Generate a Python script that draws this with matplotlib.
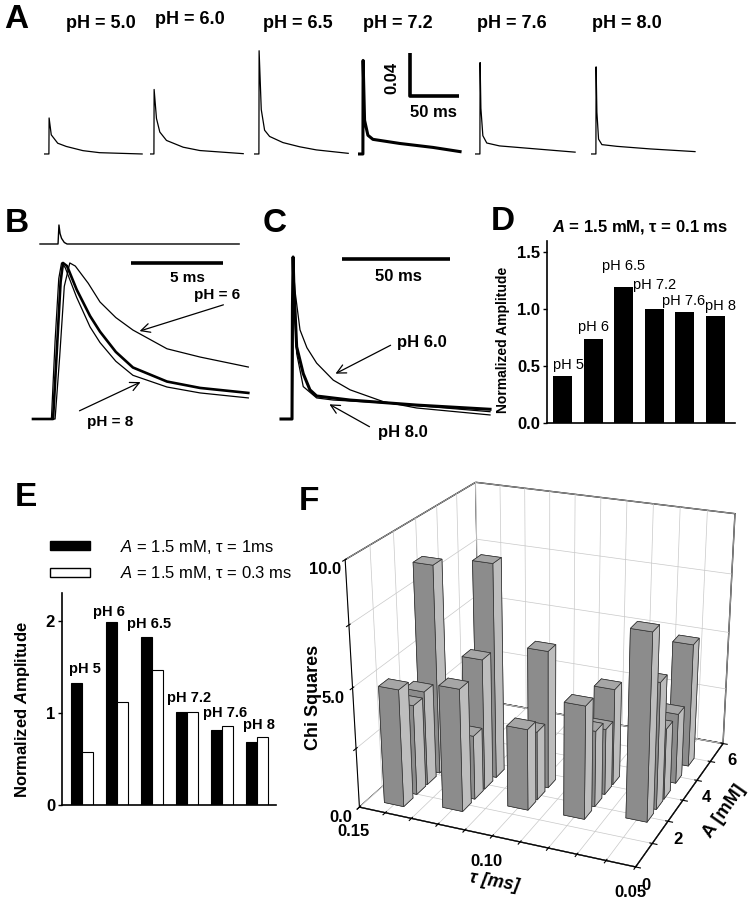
import numpy as np
import matplotlib
matplotlib.use('Agg')
import matplotlib.pyplot as plt
from matplotlib.patches import Patch

plt.rcParams['font.family'] = ['Liberation Sans', 'DejaVu Sans']
plt.rcParams['mathtext.fontset'] = 'custom'
plt.rcParams['mathtext.rm'] = 'Liberation Sans'
plt.rcParams['mathtext.it'] = 'Liberation Sans:italic'
plt.rcParams['mathtext.bf'] = 'Liberation Sans:bold'
try:
    plt.rcParams['mathtext.bfit'] = 'Liberation Sans:bold:italic'
except KeyError:
    pass
plt.rcParams['grid.color'] = '#c8c8c8'
plt.rcParams['grid.linewidth'] = 0.5

# ---------------- data ----------------
# A: currents at each pH (time ms, amplitude)
ph_a = ['pH = 5.0', 'pH = 6.0', 'pH = 6.5', 'pH = 7.2', 'pH = 7.6', 'pH = 8.0']
t_ph50 = [0, 5, 5.2, 7.4, 14, 22.7, 39.7, 56.7, 100]
i_ph50 = [0, 0, 0.0335, 0.0178, 0.010, 0.007, 0.0031, 0.0012, 0.0]
t_ph60 = [0, 4, 4.2, 6.6, 10, 16.8, 33.8, 50.8, 95]
i_ph60 = [0, 0, 0.060, 0.033, 0.0204, 0.0126, 0.0063, 0.0032, 0.0003]
t_ph65 = [0, 5, 5.2, 7.4, 10.8, 15.9, 29.5, 46.5, 63.5, 96]
i_ph65 = [0, 0, 0.096, 0.0413, 0.0221, 0.0163, 0.0106, 0.0067, 0.0038, 0.0006]
t_ph72 = [0, 5, 5.2, 6.7, 10.1, 15.2, 42.4, 76.4, 104]
i_ph72 = [0, 0, 0.087, 0.0313, 0.0174, 0.0136, 0.0098, 0.0061, 0.0022]
t_ph76 = [0, 5, 5.2, 6, 8, 12, 25, 102]
i_ph76 = [0, 0, 0.085, 0.0425, 0.017, 0.0102, 0.0075, 0.0017]
t_ph80 = [0, 5, 5.2, 6, 7.7, 11.1, 26.4, 60.4, 106]
i_ph80 = [0, 0, 0.081, 0.0389, 0.0138, 0.0087, 0.0071, 0.0047, 0.0022]

# B: normalized fits on a 5 ms scale
b_t_data = [0, 1.09, 1.3, 1.5, 1.63, 1.85, 2.37, 3.1, 3.64, 4.5, 5.43, 7.28, 9.08, 11.7]
b_y_data = [0, 0, 0.45, 0.88, 1.0, 0.98, 0.83, 0.66, 0.56, 0.43, 0.33, 0.24, 0.199, 0.167]
b_t_ph6 = [0, 1.2, 1.45, 1.7, 2.0, 2.3, 3.0, 3.64, 4.5, 5.43, 7.28, 9.08, 11.7]
b_y_ph6 = [0, 0, 0.4, 0.85, 1.0, 0.98, 0.87, 0.75, 0.65, 0.57, 0.45, 0.397, 0.333]
b_t_ph8 = [0, 1.0, 1.2, 1.4, 1.55, 1.75, 2.37, 3.1, 3.64, 4.5, 5.43, 7.28, 9.08, 11.7]
b_y_ph8 = [0, 0, 0.5, 0.9, 1.0, 0.97, 0.78, 0.59, 0.49, 0.37, 0.28, 0.205, 0.167, 0.135]
pulse_t = [0.38, 1.36, 1.41, 1.47, 1.55, 1.7, 1.85, 11.2]
pulse_y = [0, 0, 1.0, 0.55, 0.3, 0.08, 0, 0]

# C: same on a 50 ms scale
c_t_data = [0, 5.1, 5.3, 5.6, 5.9, 7.25, 10.3, 13.4, 16.5, 32, 62.8, 96.8]
c_y_data = [0, 0, 0.7, 1.0, 0.85, 0.446, 0.28, 0.18, 0.142, 0.117, 0.086, 0.06]
c_t_ph6 = [0, 5.2, 5.7, 6.4, 8.8, 12, 16.5, 24.2, 32, 47.4, 62.8, 96.8]
c_y_ph6 = [0, 0, 0.95, 0.8, 0.55, 0.44, 0.345, 0.24, 0.18, 0.107, 0.068, 0.025]
c_t_ph8 = [0, 5.2, 5.6, 6.2, 7.25, 10.3, 16.5, 24.2, 47.4, 96.8]
c_y_ph8 = [0, 0, 0.95, 0.7, 0.405, 0.2, 0.13, 0.117, 0.1, 0.045]

# D / E: normalized amplitudes
ph_bars = ['pH 5', 'pH 6', 'pH 6.5', 'pH 7.2', 'pH 7.6', 'pH 8']
d_amp = [0.41, 0.74, 1.20, 1.00, 0.98, 0.94]
e_amp_1ms = [1.32, 1.99, 1.82, 1.01, 0.81, 0.68]
e_amp_03ms = [0.57, 1.12, 1.47, 1.01, 0.86, 0.74]

# F: chi squares over (tau, A)
f_tau = [0.14, 0.14, 0.14, 0.14,
         0.12, 0.12, 0.12, 0.12,
         0.10, 0.10, 0.10,
         0.08, 0.08, 0.08, 0.08,
         0.06, 0.06, 0.06, 0.06, 0.06]
f_A = [0.6, 1.2, 1.7, 2.3,
       0.9, 1.5, 2.0, 2.6,
       1.5, 2.0, 2.6,
       1.6, 2.2, 2.8, 3.3,
       2.0, 2.6, 3.1, 3.9, 4.8]
f_chi = [4.9, 3.8, 4.0, 8.8,
         5.1, 2.7, 5.5, 9.0,
         3.4, 2.9, 5.8,
         4.7, 3.2, 2.8, 4.1,
         7.7, 5.3, 3.0, 3.0, 5.3]

W, H = 750, 900
fig = plt.figure(figsize=(7.5, 9), dpi=100)


def box(x0, y0, x1, y1):
    return [x0 / W, 1 - y1 / H, (x1 - x0) / W, (y1 - y0) / H]


def ftext(x, y, s, **kw):
    return fig.text(x / W, 1 - y / H, s, **kw)


# panel letters
for lab, (x, y) in zip('ABCDEF', [(16, 20), (17, 223), (275, 223), (503, 222), (26, 498), (309, 501)]):
    ftext(x, y, lab, fontsize=24, fontweight='bold', ha='center', va='center')

# ---------------- F ----------------
# drawn first so its background never hides the other panels' text
# tau runs right-to-left in the original, so it is drawn on a negated axis
axf = fig.add_axes(box(318, 430, 768, 900), projection='3d')
axf.set_facecolor((1, 1, 1, 0))
axf.computed_zorder = False
dx, dy = 0.0075, 0.42
azim, elev = -67, 23
# one colour per face: bottom, top, front, back, left, right
face_cols = ['#8a8a8a', '#a6a6a6', '#8c8c8c', '#8c8c8c', '#8c8c8c', '#bdbdbd']
# back bars first so the nearer ones cover them
depth = [(-t + 0.15) / 0.1 * np.cos(np.radians(azim)) + a / 6 * np.sin(np.radians(azim))
         for t, a in zip(f_tau, f_A)]
for n, k in enumerate(np.argsort(depth)):
    axf.bar3d(-f_tau[k] - dx / 2, f_A[k] - dy / 2, 0, dx, dy, f_chi[k],
              color=face_cols, edgecolor='#333333', linewidth=0.5, shade=False, zorder=10 + n)
axf.set_xlim(-0.15, -0.05)
axf.set_ylim(0, 6)
axf.set_zlim(0, 10)
axf.set_proj_type('persp', focal_length=0.6)
axf.view_init(elev=elev, azim=azim)
axf.set_box_aspect((1.1, 1.05, 0.98), zoom=1.03)
xt = [0.15, 0.14, 0.13, 0.12, 0.11, 0.10, 0.09, 0.08, 0.07, 0.06, 0.05]
axf.set_xticks([-v for v in xt])
axf.set_xticklabels(['0.15', '', '', '', '', '0.10', '', '', '', '', '0.05'], fontsize=12, fontweight='bold')
axf.set_yticks([0, 1, 2, 3, 4, 5, 6])
axf.set_yticklabels(['0', '', '2', '', '4', '', '6'], fontsize=12, fontweight='bold')
axf.set_zticks([0, 2.5, 5, 7.5, 10])
axf.set_zticklabels(['0.0', '', '5.0', '', '10.0'], fontsize=12, fontweight='bold')
axf.zaxis.set_ticks_position('lower')
axf.zaxis.set_label_position('lower')
axf.tick_params(axis='x', pad=0)
axf.tick_params(axis='y', pad=-2)
axf.tick_params(axis='z', pad=0)
for axis in (axf.xaxis, axf.yaxis, axf.zaxis):
    axis.set_pane_color((1, 1, 1, 1))
    axis.pane.set_edgecolor('black')
    axis.pane.set_linewidth(1.0)
    axis.line.set_color('black')
ftext(313, 697, 'Chi Squares', fontsize=13, fontweight='bold', rotation=90, ha='center', va='center')
ftext(494, 882, 'τ [ms]', fontsize=13, fontweight='bold', style='italic', rotation=-10, ha='center', va='center')
ftext(724, 811, 'A [mM]', fontsize=13, fontweight='bold', rotation=55, ha='center', va='center')

# ---------------- A ----------------
a_traces = [(t_ph50, i_ph50), (t_ph60, i_ph60), (t_ph65, i_ph65),
            (t_ph72, i_ph72), (t_ph76, i_ph76), (t_ph80, i_ph80)]
a_left = [44, 150, 254, 358, 475, 591]
a_labx = [101, 190, 298, 398, 512, 627]
a_laby = [23, 20, 23, 23, 24, 24]
a_axes = []
for k, (tt, yy) in enumerate(a_traces):
    ax = fig.add_axes(box(a_left[k], 40, a_left[k] + 105, 160))
    ax.plot(tt, yy, color='black', lw=2.2 if k == 3 else 0.9)
    ax.set_xlim(0, 107)
    ax.set_ylim(-0.0056, 0.106)
    ax.axis('off')
    a_axes.append(ax)
    ftext(a_labx[k], a_laby[k], ph_a[k], fontsize=13, fontweight='bold', ha='center', va='center')
# scale bar 0.04 / 50 ms
ax = a_axes[3]
ax.plot([53, 53, 103], [0.094, 0.054, 0.054], color='black', lw=2.6, solid_capstyle='butt')
ax.text(35, 0.071, '0.04', rotation=90, fontsize=12, fontweight='bold', ha='center', va='center')
ax.text(77, 0.039, '50 ms', fontsize=12, fontweight='bold', ha='center', va='center')

# ---------------- B ----------------
axp = fig.add_axes(box(30, 215, 252, 250))
axp.plot(pulse_t, pulse_y, color='black', lw=1.0)
axp.set_xlim(-0.163, 11.9)
axp.set_ylim(-0.316, 1.526)
axp.axis('off')

axb = fig.add_axes(box(30, 255, 252, 425))
axb.plot(b_t_ph6, b_y_ph6, color='black', lw=0.9)
axb.plot(b_t_ph8, b_y_ph8, color='black', lw=0.9)
axb.plot(b_t_data, b_y_data, color='black', lw=1.9)
axb.set_xlim(-0.163, 11.9)
axb.set_ylim(-0.0385, 1.051)
axb.axis('off')
axb.plot([5.33, 10.33], [1.0, 1.0], color='black', lw=2.6, solid_capstyle='butt')
axb.text(8.37, 0.904, '5 ms', fontsize=11, fontweight='bold', ha='center', va='center')
axb.text(10.0, 0.795, 'pH = 6', fontsize=11, fontweight='bold', ha='center', va='center')
axb.annotate('', xy=(5.65, 0.558), xytext=(10.49, 0.737),
             arrowprops=dict(arrowstyle='->', lw=0.9, mutation_scale=16))
axb.text(4.18, -0.019, 'pH = 8', fontsize=11, fontweight='bold', ha='center', va='center')
axb.annotate('', xy=(5.98, 0.244), xytext=(2.39, 0.045),
             arrowprops=dict(arrowstyle='->', lw=0.9, mutation_scale=16))

# ---------------- C ----------------
axc = fig.add_axes(box(278, 250, 495, 425))
axc.plot(c_t_ph6, c_y_ph6, color='black', lw=0.9)
axc.plot(c_t_ph8, c_y_ph8, color='black', lw=0.9)
axc.plot(c_t_data, c_y_data, color='black', lw=2.2)
axc.set_xlim(-1.39, 99.1)
axc.set_ylim(-0.037, 1.043)
axc.axis('off')
axc.plot([28.2, 78.2], [0.988, 0.988], color='black', lw=2.6, solid_capstyle='butt')
axc.text(54.2, 0.877, '50 ms', fontsize=12, fontweight='bold', ha='center', va='center')
axc.text(53.7, 0.475, 'pH 6.0', fontsize=12, fontweight='bold', ha='left', va='center')
axc.annotate('', xy=(24.1, 0.272), xytext=(51.9, 0.463),
             arrowprops=dict(arrowstyle='->', lw=0.9, mutation_scale=16))
axc.text(44.9, -0.086, 'pH 8.0', fontsize=12, fontweight='bold', ha='left', va='center', clip_on=False)
axc.annotate('', xy=(21.3, 0.099), xytext=(42.1, -0.056), annotation_clip=False,
             arrowprops=dict(arrowstyle='->', lw=0.9, mutation_scale=16))

# ---------------- D ----------------
axd = fig.add_axes(box(547, 241, 735, 423))
xd = np.arange(len(d_amp))
axd.bar(xd, d_amp, width=0.62, color='black')
axd.set_xlim(-0.507, 5.64)
axd.set_ylim(0, 1.6)
axd.set_yticks([0, 0.5, 1.0, 1.5])
axd.set_yticklabels(['0.0', '0.5', '1.0', '1.5'], fontsize=12, fontweight='bold')
axd.set_xticks([])
for s in ['top', 'right']:
    axd.spines[s].set_visible(False)
axd.spines['left'].set_linewidth(1.2)
axd.spines['bottom'].set_linewidth(1.2)
axd.tick_params(axis='y', direction='out', length=3, width=1, pad=2)
d_lab_pos = [(-0.31, 0.51), (0.51, 0.84), (1.28, 1.38), (2.30, 1.21), (3.24, 1.07), (4.66, 1.03)]
for lab, (x, y) in zip(ph_bars, d_lab_pos):
    axd.text(x, y, lab, fontsize=10.5, ha='left', va='center')
ftext(640, 227, r'$\mathbfit{A}$ = 1.5 mM, τ = 0.1 ms', fontsize=12, fontweight='bold', ha='center', va='center')
ftext(503, 340, 'Normalized Amplitude', fontsize=10, fontweight='bold', rotation=90, ha='center', va='center')

# ---------------- E ----------------
axe = fig.add_axes(box(62, 593, 276, 805))
xe = np.arange(len(e_amp_1ms))
bw = 0.314
axe.bar(xe - bw / 2, e_amp_1ms, width=bw, color='black', edgecolor='black', lw=0.8)
axe.bar(xe + bw / 2, e_amp_03ms, width=bw, color='white', edgecolor='black', lw=0.8)
axe.set_xlim(-0.571, 5.54)
axe.set_ylim(0, 2.3)
axe.set_yticks([0, 1, 2])
axe.set_yticklabels(['0', '1', '2'], fontsize=12, fontweight='bold')
axe.set_xticks([])
for s in ['top', 'right']:
    axe.spines[s].set_visible(False)
axe.spines['left'].set_linewidth(1.2)
axe.spines['bottom'].set_linewidth(1.2)
axe.tick_params(axis='y', direction='out', length=3, width=1, pad=2)
e_lab_pos = [(-0.37, 1.48), (0.31, 2.09), (1.29, 1.96), (2.43, 1.16), (3.46, 1.0), (4.6, 0.87)]
for lab, (x, y) in zip(ph_bars, e_lab_pos):
    axe.text(x, y, lab, fontsize=10.5, fontweight='bold', ha='left', va='center')
ftext(23, 710, r'Normalized $\mathbfit{A}$mplitude', fontsize=12, fontweight='bold', rotation=90,
      ha='center', va='center')
fig.legend([Patch(facecolor='black', edgecolor='black'), Patch(facecolor='white', edgecolor='black')],
           [r'$\mathit{A}$ = 1.5 mM, τ = 1ms', r'$\mathit{A}$ = 1.5 mM, τ = 0.3 ms'],
           loc='upper left', bbox_to_anchor=(38 / W, 1 - 526 / H), frameon=False, fontsize=12,
           handlelength=2.4, handleheight=0.45, handletextpad=1.8, labelspacing=0.5, borderpad=0.2)

fig.savefig('out.png', dpi=100)
